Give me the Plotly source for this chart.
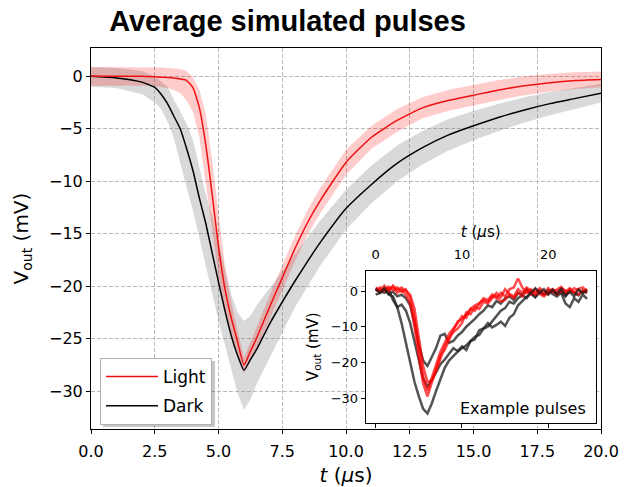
import plotly.graph_objects as go

# ---------------- main averaged pulses ----------------
t_avg = [0, 1, 2, 2.5, 2.75, 3, 3.25, 3.5, 3.75, 4, 4.25, 4.5, 4.75, 5, 5.25, 5.5, 5.75,
         6, 6.25, 6.5, 7, 7.5, 8, 8.5, 9, 10, 11, 12, 13, 14, 15, 16, 17, 18, 19, 20]

light_mean = [0.0, 0.0, 0.0, -0.05, -0.08, -0.1, -0.15, -0.25, -0.4, -1.1, -3.0, -6.5,
              -11.2, -16.2, -20.2, -23.0, -25.3, -27.5, -26.2, -24.9, -22.0, -19.2, -16.4,
              -13.9, -11.8, -8.2, -5.8, -4.2, -3.0, -2.3, -1.8, -1.3, -0.9, -0.6, -0.4, -0.3]
light_hi = [0.9, 0.9, 0.9, 0.85, 0.85, 0.8, 0.75, 0.7, 0.5, -0.1, -1.3, -3.6, -8.0, -13.2,
            -18.0, -21.5, -24.2, -26.8, -25.3, -23.8, -20.9, -18.0, -15.2, -12.7, -10.6,
            -7.0, -4.7, -3.1, -2.0, -1.3, -0.8, -0.35, 0.0, 0.25, 0.4, 0.45]
light_lo = [-0.9, -0.9, -0.9, -0.95, -1.0, -1.1, -1.3, -1.6, -2.3, -3.4, -5.8, -10.0,
            -14.6, -19.0, -22.4, -24.7, -26.5, -28.3, -27.1, -26.0, -23.1, -20.4, -17.6,
            -15.1, -13.0, -9.4, -6.9, -5.3, -4.0, -3.3, -2.8, -2.25, -1.8, -1.45, -1.2, -1.05]

dark_mean = [0.0, -0.15, -0.55, -1.05, -1.7, -2.6, -3.8, -5.0, -6.9, -9.0, -11.6, -14.0,
             -16.8, -19.6, -22.3, -24.7, -26.6, -28.0, -27.0, -26.0, -23.6, -21.5, -19.5,
             -17.6, -15.8, -12.6, -10.3, -8.3, -6.8, -5.6, -4.7, -3.9, -3.2, -2.6, -2.1, -1.6]
dark_hi = [0.9, 0.8, 0.5, 0.0, -0.5, -1.0, -2.2, -3.3, -4.5, -6.1, -8.6, -11.2, -13.3,
           -15.8, -18.4, -20.8, -22.5, -23.3, -22.8, -21.8, -20.2, -18.6, -17.0, -15.3,
           -13.7, -10.8, -8.5, -6.6, -5.2, -4.1, -3.3, -2.6, -2.0, -1.5, -1.1, -0.7]
dark_lo = [-1.0, -1.1, -1.7, -2.5, -3.1, -4.3, -5.9, -8.3, -10.6, -12.8, -15.2, -17.9,
           -20.7, -23.3, -25.6, -28.0, -30.2, -31.8, -30.8, -29.3, -26.8, -24.4, -22.0,
           -20.0, -18.0, -14.6, -12.1, -10.0, -8.4, -7.1, -6.1, -5.2, -4.4, -3.7, -3.1, -2.5]

# ---------------- inset: example pulses ----------------
t_ex = [i * 0.5 for i in range(50)]
dark_a = [0.5, -0.5, 0.8, -1.0, -1.5, -4.5, -9.0, -14.5, -20.0, -25.5, -29.5, -33.0, -34.3,
          -31.5, -28.0, -25.0, -21.5, -19.5, -18.2, -17.0, -16.0, -15.2, -14.0, -13.5, -11.0,
          -10.5, -9.0, -10.2, -9.5, -8.6, -9.8, -7.5, -6.5, -4.0, -2.8, -1.5, -0.3, 0.8, -0.5,
          0.5, -1.0, 0.3, -0.8, 0.6, -1.2, -0.2, -1.5, 0.4, -0.6, 0.2]
dark_b = [0.8, 0.0, -0.5, 0.5, -2.5, -4.5, -3.8, -5.5, -9.0, -14.0, -19.5, -24.5, -26.8,
          -25.0, -22.8, -20.5, -19.2, -17.5, -16.0, -16.8, -15.5, -16.5, -14.0, -12.8, -12.3,
          -10.5, -10.0, -8.5, -7.0, -5.5, -4.8, -3.0, -3.5, -2.0, -1.2, -2.0, -0.5, -1.5, -0.2,
          -1.0, 0.3, -0.8, -1.5, -0.5, -3.5, -4.5, -2.0, -3.0, -1.0, -2.2]
dark_c = [-1.0, -0.5, 0.5, -0.8, -0.2, -1.5, -1.0, -2.0, -4.0, -9.0, -15.0, -19.5, -21.0,
          -18.5, -16.0, -12.5, -12.0, -14.5, -14.0, -12.5, -11.5, -10.0, -9.0, -7.8, -6.5,
          -5.5, -4.0, -4.5, -2.8, -3.5, -2.0, -1.5, -2.5, -0.5, -1.0, 0.5, -0.8, -1.8, -0.3,
          -1.0, -0.5, 0.5, -1.0, -0.2, -1.5, 0.3, -0.5, -1.2, 0.2, -0.5]
light_a = [1.0, 0.2, 1.5, 0.5, 1.2, -0.5, 0.3, -1.0, -3.5, -10.0, -18.5, -26.0, -29.5,
           -25.5, -21.5, -18.0, -16.5, -13.5, -11.0, -8.5, -8.0, -6.5, -5.0, -5.5, -3.5,
           -2.5, -3.0, -1.5, -2.0, -0.5, -1.5, 0.5, 1.0, 3.5, 1.0, -0.5, 0.5, -1.0, 0.2,
           -0.8, 0.8, -0.3, 0.5, 1.2, -0.2, 0.8, -0.5, 0.6, 1.0, 0.0]
light_b = [0.0, 1.0, 0.0, 1.2, 0.2, 1.0, -0.2, 0.5, -2.0, -7.5, -16.0, -24.0, -28.0,
           -24.5, -20.5, -17.0, -14.5, -12.0, -10.5, -9.0, -7.0, -7.5, -5.0, -4.0, -3.5,
           -2.0, -2.5, -1.0, -1.5, -3.0, -2.5, -1.0, -2.0, -0.5, -1.5, 0.0, -1.0, 0.5, -0.8,
           -1.5, -0.5, 0.3, -1.0, 0.0, -0.8, 0.5, -0.3, -1.0, 0.0, -0.5]
light_c = [0.5, -0.3, 0.8, 0.0, 1.5, 0.3, 1.0, 0.0, -1.0, -5.0, -13.0, -21.0, -25.5,
           -25.0, -22.5, -19.0, -15.5, -13.0, -11.5, -10.5, -9.0, -6.0, -6.5, -4.5, -5.0,
           -3.0, -3.5, -2.0, -0.5, -1.8, 0.5, -0.8, -1.5, 0.5, -0.5, 1.0, 0.0, -0.5, 0.8,
           0.0, -0.8, 0.5, -0.3, 0.8, 0.2, -0.5, 0.8, 0.2, -0.3, 0.6]

main_xticks = [0, 2.5, 5, 7.5, 10, 12.5, 15, 17.5, 20]
main_yticks = [0, -5, -10, -15, -20, -25, -30]
inset_xticks = [0, 10, 20]
inset_yticks = [0, -10, -20, -30]

FONT = "DejaVu Sans"
W, H = 625, 487
ML, MR, MT, MB = 91, 24, 48, 58
PW, PH = W - ML - MR, H - MT - MB

fig = go.Figure()


def band(t, hi, lo):
    return list(t) + list(t)[::-1], list(hi) + list(lo)[::-1]


bx, by = band(t_avg, dark_hi, dark_lo)
fig.add_trace(go.Scatter(x=bx, y=by, fill="toself", fillcolor="rgba(128,128,128,0.30)",
                         line=dict(width=0), showlegend=False, hoverinfo="skip"))
bx, by = band(t_avg, light_hi, light_lo)
fig.add_trace(go.Scatter(x=bx, y=by, fill="toself", fillcolor="rgba(255,0,0,0.20)",
                         line=dict(width=0), showlegend=False, hoverinfo="skip"))
fig.add_trace(go.Scatter(x=t_avg, y=dark_mean, mode="lines", name="Dark",
                         line=dict(color="black", width=1.5, shape="spline", smoothing=0.5),
                         legendrank=2, legendgroup="d"))
fig.add_trace(go.Scatter(x=t_avg, y=light_mean, mode="lines", name="Light",
                         line=dict(color="#ee1111", width=1.5, shape="spline", smoothing=0.5),
                         legendrank=1, legendgroup="l"))

# inset traces (first one on the bottom-tick axis x3, which mirrors x2)
for i, ys in enumerate((dark_a, dark_b, dark_c)):
    fig.add_trace(go.Scatter(x=t_ex, y=ys, mode="lines", xaxis="x3" if i == 0 else "x2",
                             yaxis="y2", line=dict(color="rgba(25,25,25,0.75)", width=2.5),
                             showlegend=False))
for ys in (light_a, light_b, light_c):
    fig.add_trace(go.Scatter(x=t_ex, y=ys, mode="lines", xaxis="x2", yaxis="y2",
                             line=dict(color="rgba(255,0,0,0.7)", width=2.5),
                             showlegend=False))

inset_xdom = [0.5386, 0.9896]
inset_ydom = [0.0165, 0.4155]
inset_xrange = [-1.16, 25.5]

axis_common = dict(showline=True, linecolor="black", linewidth=1, mirror=True,
                   ticks="outside", ticklen=4, tickwidth=1, tickcolor="black",
                   zeroline=False, automargin=False)

# legend box (pixels) and its drop shadow
LEG_X, LEG_Y, LEG_W, LEG_H, SH = 100, 358, 112, 66, 3

fig.update_layout(
    width=W, height=H,
    margin=dict(l=ML, r=MR, t=MT, b=MB, autoexpand=False),
    paper_bgcolor="white", plot_bgcolor="white",
    font=dict(family=FONT, color="black"),
    title=dict(text="<b>Average simulated pulses</b>", x=0.46, xref="container",
               xanchor="center", y=0.957, yref="container", yanchor="middle",
               font=dict(family="Liberation Sans, Arial", size=29, color="black")),
    xaxis=dict(domain=[0, 1], range=[0, 20], tickvals=main_xticks, tickformat=".1f",
               showgrid=True, gridcolor="#b8b8b8", griddash="4px,2px", gridwidth=1,
               tickfont=dict(size=16), ticklabelstandoff=4,
               title=dict(text="<i>t</i> (<i>µ</i>s)", font=dict(size=20), standoff=8),
               **axis_common),
    yaxis=dict(domain=[0, 1], range=[-33.6, 2.7], tickvals=main_yticks,
               showgrid=True, gridcolor="#b8b8b8", griddash="4px,2px", gridwidth=1,
               tickfont=dict(size=16),
               title=dict(text="V<sub>out</sub> (mV)", font=dict(size=20), standoff=15),
               **axis_common),
    xaxis2=dict(domain=inset_xdom, anchor="y2", side="top", range=inset_xrange,
                tickvals=inset_xticks, showgrid=False, showline=True, linecolor="black",
                linewidth=1, mirror=True, ticks="", zeroline=False, automargin=False,
                tickfont=dict(size=13), ticklabelstandoff=5,
                title=dict(text="<i>t</i> (<i>µ</i>s)", font=dict(size=15), standoff=6)),
    xaxis3=dict(domain=inset_xdom, anchor="y2", overlaying="x2", side="bottom",
                range=inset_xrange, tickvals=inset_xticks, showticklabels=False,
                showgrid=False, showline=False, zeroline=False, ticks="outside",
                ticklen=4, tickcolor="black", automargin=False),
    yaxis2=dict(domain=inset_ydom, anchor="x2", range=[-36.9, 5.7], tickvals=inset_yticks,
                showgrid=False, tickfont=dict(size=13),
                title=dict(text="V<sub>out</sub> (mV)", font=dict(size=15), standoff=8),
                **axis_common),
    legend=dict(x=(LEG_X - ML) / PW, y=1 - (LEG_Y - MT) / PH, xanchor="left", yanchor="top",
                bgcolor="white", bordercolor="#b0b0b0", borderwidth=1,
                font=dict(size=17), tracegroupgap=4, itemwidth=52),
    shapes=[dict(type="rect", xref="paper", yref="paper", layer="above",
                 x0=(LEG_X + SH - ML) / PW, x1=(LEG_X + LEG_W + SH - ML) / PW,
                 y0=1 - (LEG_Y + LEG_H + SH - MT) / PH, y1=1 - (LEG_Y + SH - MT) / PH,
                 fillcolor="rgba(0,0,0,0.22)", line=dict(width=0))],
    annotations=[dict(text="Example pulses", xref="x2 domain", yref="y2 domain",
                      x=0.965, y=0.02, xanchor="right", yanchor="bottom",
                      showarrow=False, font=dict(size=16))],
)

fig.write_html("out.html")
